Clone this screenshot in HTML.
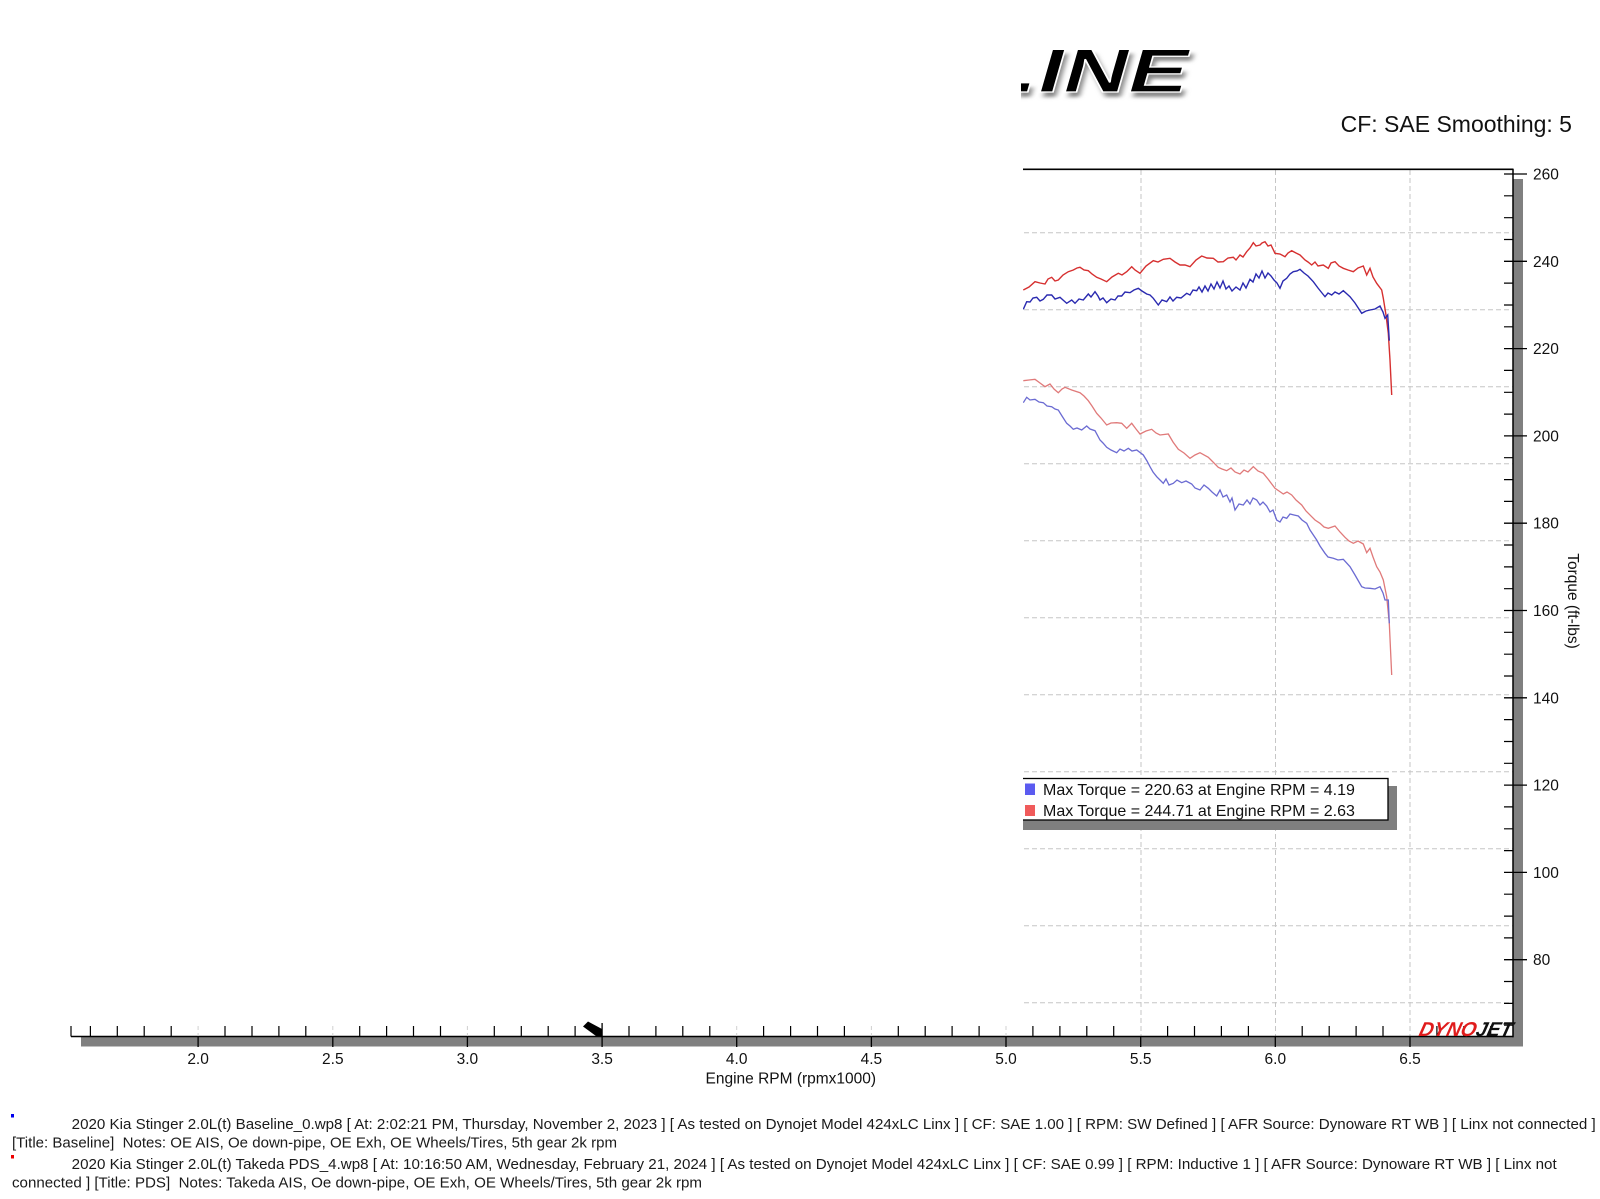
<!DOCTYPE html>
<html><head><meta charset="utf-8"><style>
html,body{margin:0;padding:0;background:#fff;}
svg{display:block;}
text{font-family:"Liberation Sans",sans-serif;}
</style></head><body>
<svg width="1600" height="1199" viewBox="0 0 1600 1199" xmlns="http://www.w3.org/2000/svg">
<defs>
<filter id="blur" x="-10%" y="-20%" width="120%" height="140%"><feGaussianBlur stdDeviation="1.8"/></filter>
<clipPath id="logoclip"><rect x="1021" y="20" width="300" height="100"/></clipPath>
</defs>
<rect width="1600" height="1199" fill="#fff"/>

<!-- gridlines -->
<g stroke="#c6c6c6" stroke-width="1" stroke-dasharray="5,3" fill="none">
<path d="M1000 232.7H1513M1000 309.7H1513M1000 386.7H1513M1000 463.7H1513M1000 540.7H1513M1000 617.7H1513M1000 694.7H1513M1000 771.7H1513M1000 848.7H1513M1000 925.7H1513M1000 1002.7H1513"/>
<path d="M1141 170V1036M1275.5 170V1036M1410 170V1036"/>
</g>

<!-- lower curves -->
<polyline fill="none" stroke="#e07a7a" stroke-width="1.3" points="1023.3,380.7 1029,380 1035,379.3 1040,383 1045,386.7 1050,384 1054,389 1058.3,392.7 1062,389 1065,387.3 1071.7,390 1080,392.7 1084,396 1088.3,400.7 1092,406 1096.7,413.3 1101,418 1106.7,425 1111,423 1116.7,422.7 1121.7,423.3 1126.7,428.3 1131.7,423.3 1136,429 1140,434 1146,431 1151.7,429.3 1156,433 1160,435 1168.3,434 1173,442 1178.3,449.3 1184,453 1190,458.3 1195,455 1200,452.7 1208.3,457.3 1213,462 1218.3,467.3 1222,469 1226.7,470.7 1231,468 1235,472 1240,474 1244,470 1248,472 1253.3,466.7 1258,471 1263.3,473.3 1268,479 1275,488.3 1279,491 1283.3,494 1287,492 1291.7,495 1296,500 1301.7,505 1306,511 1311.7,516.7 1315,520 1320,523.3 1324,527 1328.3,528.3 1335,526 1340,532 1345,537.3 1349,541 1353.3,543.3 1358,541 1363.3,544 1366.7,552.7 1370,548.3 1373,557 1376.7,566.7 1380,572 1383.3,580 1386.7,596.7 1389.3,623.3 1391.7,675"/>
<polyline fill="none" stroke="#6b6bd2" stroke-width="1.3" points="1023.3,402.7 1026.7,397.3 1030,400 1035,399.3 1039,402 1043.3,402.7 1047,406 1051.7,406.7 1055,409 1058.3,410 1062,416 1066.7,423.3 1070,426 1073.3,429.3 1077,428 1081.7,430 1086.7,426 1090,429 1095,430.7 1100,440 1103,443 1106.7,447.3 1111,450 1116.7,452.7 1120,449 1124,451 1128.3,448.3 1132,451 1136.7,450 1143.3,455 1147,461 1150,466.7 1153,472 1156.7,476.7 1160,480 1163.3,483.3 1166,479 1169,485 1173.3,483.3 1177,480 1181.7,482.7 1186,481 1191.7,484 1195,488 1200,490 1204,485 1208.3,488.3 1212,492 1216.7,496 1220,490 1223,497 1226.7,495 1230,502 1232,498 1235,510 1239,504 1243.3,505 1247,500 1250,504 1253,498 1256.7,500 1260,505 1263,502 1266.7,506 1270,512 1273,510 1276.7,520 1280,522 1283,517 1286.7,518.3 1290,514 1294,515 1298.3,516 1302,520 1306.7,523.3 1310,530 1316.7,540 1320,546 1325,553.3 1328,557 1333.3,558.3 1338,560 1343.3,559.3 1350,566.7 1355,575 1361.7,586.7 1365,588 1370,588.3 1375,589 1380,586.7 1383,593 1385,600 1388.3,600 1389.3,623.3"/>

<!-- upper curves -->
<polyline fill="none" stroke="#d63030" stroke-width="1.4" points="1023.3,290 1029,287 1035,281.7 1040,283 1045,284 1048,279 1051.7,277.3 1055,281 1058.3,280 1063,275 1068.3,271.7 1073.3,270 1077,268 1080,267.3 1084,270 1088.3,270.7 1092,274 1096.7,277.3 1101,279 1106.7,281.7 1112,277 1118.3,273.3 1122,275 1126.7,271.7 1131.7,266.7 1135,270 1140,273.3 1146,266 1153.3,260.7 1158,262 1163.3,259.3 1170,258.3 1175,262 1180,265 1185,265 1190,266.7 1196,260 1201.7,256 1207,258 1213.3,258.3 1218,262 1223.3,261.7 1228,258 1233.3,257.3 1236,260 1240,255 1243,257 1246.7,251.7 1250,248 1253.3,242.7 1256,246 1260,245 1262,243 1265,241.7 1268,246 1271,245 1275,253.3 1280,254 1285,256.7 1288,253 1291.7,250.7 1296,253 1300,255 1305,260 1308,262 1311.7,265 1315,262 1318,266 1323.3,265 1328.3,268.3 1331,263 1335,261.7 1339,266 1343.3,268.3 1348,270 1353.3,271.7 1358,268 1363.3,266 1366.7,275 1370,268.3 1373,277 1376.7,283.3 1381.7,290 1383.3,298.3 1386,315 1388.3,333.3 1390,360 1391.7,395"/>
<polyline fill="none" stroke="#2a2ab0" stroke-width="1.4" points="1023.3,309.3 1026.7,301.7 1030,302 1033,298 1036.7,297.3 1040,301 1043.3,299.3 1047,295 1051.7,295 1055,299 1060,297.3 1063,300 1066.7,303.3 1071.7,300 1075,303.3 1079,299 1083.3,300 1088.3,294 1091,297 1095,291.7 1098,296 1100,300 1103,298 1106.7,302.7 1111,299 1115,300 1118,296 1121.7,296 1125,292 1130,292.7 1134,290 1138.3,288.3 1142,291 1146.7,294 1150,295 1153.3,298.3 1158.3,305 1162,300 1166.7,301.7 1170,297 1173,301 1176.7,297.3 1181,298 1186.7,293.3 1190,295 1193,290 1196.7,290.7 1199,287 1202,292 1205,286 1208,291 1211,284 1214,289 1217,282 1220,288 1223,281 1226,289 1229,286 1232,291 1236,287 1240,290 1243,283 1246,288 1250,279.3 1253,282 1256,274 1259,278 1262,271 1265,278 1268,273 1271,276 1274,280 1277,283 1280,288.3 1283,281 1286.7,278.3 1290,274 1293.3,271.7 1297,271 1300,269.3 1304,273 1308,276 1313.3,281.7 1318,288 1322,293 1325,296.7 1328,293 1331.7,295 1335,292 1339,294 1343.3,290.7 1347,294 1350,296.7 1355,303 1361.7,313.3 1366,311 1370,310 1375,309 1380,306 1383,312 1385,318.3 1387.7,315 1389.3,340.7"/>

<!-- legend -->
<rect x="1000" y="786" width="397" height="44" fill="#7f7f7f"/>
<rect x="1000" y="778.5" width="388" height="41.5" fill="#fff" stroke="#000" stroke-width="1.3"/>
<rect x="1025" y="783.5" width="10" height="11.5" fill="#5b5bf0"/>
<rect x="1025" y="805" width="10" height="11" fill="#f05b5b"/>
<text x="1043" y="795" font-size="16" fill="#111">Max Torque = 220.63 at Engine RPM = 4.19</text>
<text x="1043" y="816" font-size="16" fill="#111">Max Torque = 244.71 at Engine RPM = 2.63</text>

<!-- mask of left area -->
<rect x="0" y="0" width="1023" height="1024" fill="#fff"/>

<!-- logo fragment -->
<g clip-path="url(#logoclip)">
<text x="0" y="0" transform="translate(1012,97) skewX(-16) scale(1.45,1)" font-size="62" font-weight="bold" fill="#8a8a8a" filter="url(#blur)">.INE</text>
<text x="0" y="0" transform="translate(1009,92) skewX(-16) scale(1.45,1)" font-size="62" font-weight="bold" fill="#000" stroke="#fff" stroke-width="1.2">.INE</text>
</g>

<text x="1340.6" y="132" font-size="23" fill="#111">CF: SAE Smoothing: 5</text>

<!-- frame / bars -->
<rect x="81" y="1037" width="1442" height="9.5" fill="#808080"/>
<rect x="1513" y="179" width="10" height="867.5" fill="#808080"/>
<g stroke="#000" fill="none">
<path d="M1023 169.3H1513.5" stroke-width="1.6"/>
<path d="M1513 169V1037.3" stroke-width="1.5"/>
<path d="M71 1036.5H1513.5" stroke-width="1.5"/>
<path d="M71 1026V1036.5" stroke-width="1.2"/>
<path stroke-width="1.3" d="M1504 174H1527M1504 261.3H1527M1504 348.6H1527M1504 435.9H1527M1504 523.2H1527M1504 610.5H1527M1504 697.8H1527M1504 785.1H1527M1504 872.4H1527M1504 959.7H1527"/>
<path stroke-width="1.2" d="M1504 195.8H1513M1504 217.7H1513M1504 239.5H1513M1504 283.1H1513M1504 305H1513M1504 326.8H1513M1504 370.4H1513M1504 392.3H1513M1504 414.1H1513M1504 457.7H1513M1504 479.6H1513M1504 501.4H1513M1504 545H1513M1504 566.9H1513M1504 588.7H1513M1504 632.3H1513M1504 654.2H1513M1504 676H1513M1504 719.6H1513M1504 741.5H1513M1504 763.3H1513M1504 806.9H1513M1504 828.8H1513M1504 850.6H1513M1504 894.2H1513M1504 916.1H1513M1504 937.9H1513M1504 981.5H1513M1504 1003.4H1513M1504 1025.2H1513"/>
<path stroke-width="1.2" d="M90.4 1026V1036M117.3 1026V1036M144.2 1026V1036M171.2 1026V1036M225 1026V1036M252 1026V1036M278.9 1026V1036M305.8 1026V1036M359.7 1026V1036M386.6 1026V1036M413.5 1026V1036M440.5 1026V1036M494.3 1026V1036M521.3 1026V1036M548.2 1026V1036M575.1 1026V1036M629 1026V1036M655.9 1026V1036M682.8 1026V1036M709.8 1026V1036M763.6 1026V1036M790.6 1026V1036M817.5 1026V1036M844.4 1026V1036M898.3 1026V1036M925.2 1026V1036M952.1 1026V1036M979.1 1026V1036M1032.9 1026V1036M1059.9 1026V1036M1086.8 1026V1036M1113.7 1026V1036M1167.6 1026V1036M1194.5 1026V1036M1221.4 1026V1036M1248.4 1026V1036M1302.2 1026V1036M1329.2 1026V1036M1356.1 1026V1036M1383 1026V1036M1436.9 1026V1036M1463.8 1026V1036M1490.7 1026V1036"/>
<path stroke-width="1.3" d="M198.1 1036V1047M332.8 1036V1047M467.4 1036V1047M602.1 1023V1047M736.7 1036V1047M871.4 1036V1047M1006 1036V1047M1140.7 1036V1047M1275.3 1036V1047M1410 1036V1047"/>
</g>
<g stroke="#d0d0d0" stroke-width="1" stroke-dasharray="4,3">
<path d="M198.1 1026V1036M332.8 1026V1036M467.4 1026V1036M736.7 1026V1036M871.4 1026V1036M1006 1026V1036"/>
</g>
<polygon points="583,1026.5 588,1021.5 602,1029 602,1037 596,1036" fill="#000"/>

<!-- y labels -->
<g font-size="15.5" fill="#111">
<text x="1533" y="179.5">260</text>
<text x="1533" y="266.8">240</text>
<text x="1533" y="354.1">220</text>
<text x="1533" y="441.4">200</text>
<text x="1533" y="528.7">180</text>
<text x="1533" y="616">160</text>
<text x="1533" y="703.3">140</text>
<text x="1533" y="790.6">120</text>
<text x="1533" y="877.9">100</text>
<text x="1533" y="965.2">80</text>
</g>
<text transform="translate(1568,601) rotate(90)" text-anchor="middle" font-size="15.5" fill="#111">Torque (ft-lbs)</text>

<!-- x labels -->
<g font-size="15.5" fill="#111" text-anchor="middle">
<text x="198.1" y="1064">2.0</text>
<text x="332.8" y="1064">2.5</text>
<text x="467.4" y="1064">3.0</text>
<text x="602.1" y="1064">3.5</text>
<text x="736.7" y="1064">4.0</text>
<text x="871.4" y="1064">4.5</text>
<text x="1006" y="1064">5.0</text>
<text x="1140.7" y="1064">5.5</text>
<text x="1275.3" y="1064">6.0</text>
<text x="1410" y="1064">6.5</text>
<text x="790.8" y="1083.5">Engine RPM (rpmx1000)</text>
</g>

<!-- dynojet logo -->
<text x="0" y="0" transform="translate(1418,1036) skewX(-14)" font-size="20" font-weight="900" font-style="italic" textLength="93" lengthAdjust="spacingAndGlyphs"><tspan fill="#e01c1c">DYNO</tspan><tspan fill="#111">JET</tspan></text>

<!-- footer -->
<rect x="11" y="1114" width="3" height="3.5" fill="#0000ee"/>
<rect x="11" y="1155" width="3" height="3.5" fill="#ee0000"/>
<g font-size="14.5" fill="#1a1a1a" style="white-space:pre">
<text x="71.7" y="1129" textLength="1524" lengthAdjust="spacingAndGlyphs" xml:space="preserve">2020 Kia Stinger 2.0L(t) Baseline_0.wp8 [ At: 2:02:21 PM, Thursday, November 2, 2023 ] [ As tested on Dynojet Model 424xLC Linx ] [ CF: SAE 1.00 ] [ RPM: SW Defined ] [ AFR Source: Dynoware RT WB ] [ Linx not connected ]</text>
<text x="12" y="1147.5" textLength="605" lengthAdjust="spacingAndGlyphs" xml:space="preserve">[Title: Baseline]  Notes: OE AIS, Oe down-pipe, OE Exh, OE Wheels/Tires, 5th gear 2k rpm</text>
<text x="71.7" y="1169" textLength="1485" lengthAdjust="spacingAndGlyphs" xml:space="preserve">2020 Kia Stinger 2.0L(t) Takeda PDS_4.wp8 [ At: 10:16:50 AM, Wednesday, February 21, 2024 ] [ As tested on Dynojet Model 424xLC Linx ] [ CF: SAE 0.99 ] [ RPM: Inductive 1 ] [ AFR Source: Dynoware RT WB ] [ Linx not</text>
<text x="12" y="1187.5" textLength="690" lengthAdjust="spacingAndGlyphs" xml:space="preserve">connected ] [Title: PDS]  Notes: Takeda AIS, Oe down-pipe, OE Exh, OE Wheels/Tires, 5th gear 2k rpm</text>
</g>
</svg>
</body></html>
